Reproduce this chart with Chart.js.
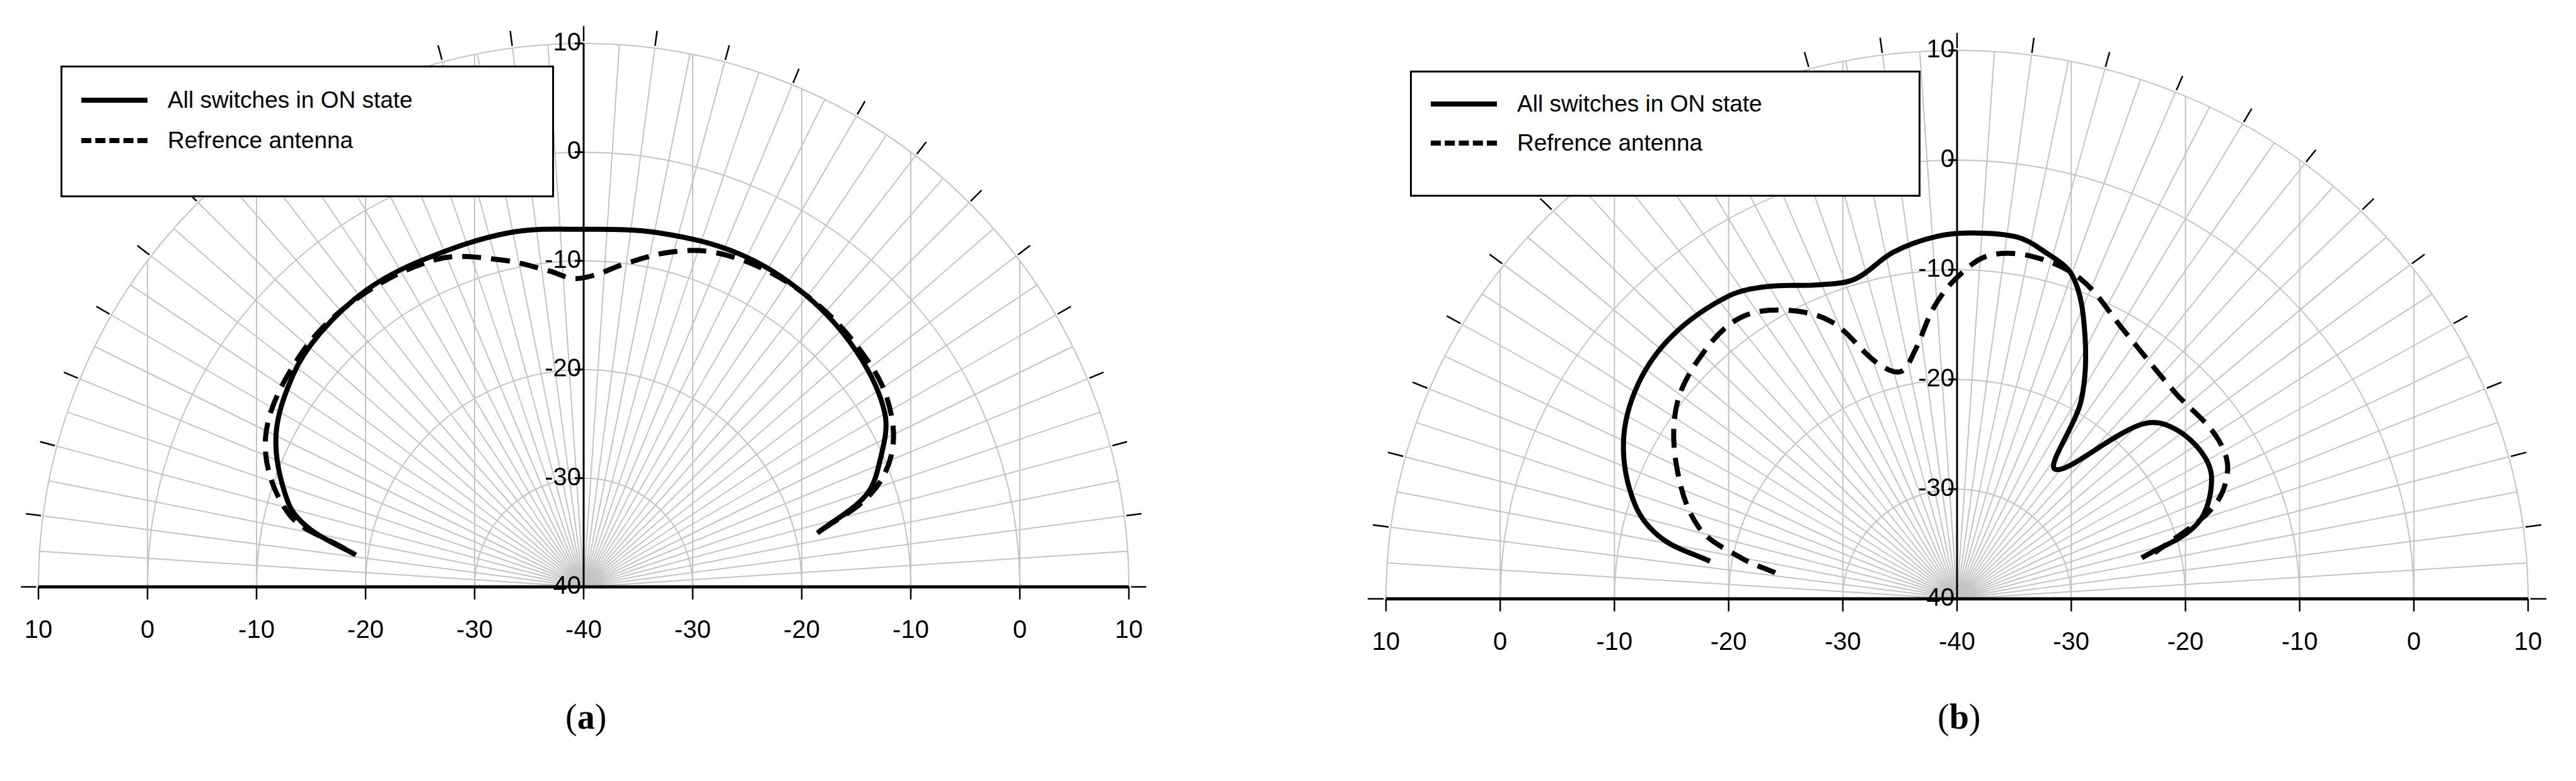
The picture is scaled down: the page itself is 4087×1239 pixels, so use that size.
<!DOCTYPE html>
<html>
<head>
<script src="https://cdn.jsdelivr.net/npm/chart.js"></script>
<style>
  body { margin: 0; background: #fff; width: 4087px; height: 1239px; position: relative; overflow: hidden;
         font-family: "Liberation Sans", Arial, sans-serif; }
  canvas { position: absolute; top: 0; }
  .legend { position: absolute; background: #fff; border: 3px solid #000; box-sizing: border-box; font-size: 37px; }
  .legend .row { position: absolute; left: 30px; height: 40px; display: flex; align-items: center; }
  .legend .sample { width: 105px; height: 0; border-top: 8px solid #000; margin-right: 32px; }
  .legend .dash { border-top-style: dashed; }
  .caption { position: absolute; top: 1105px; font-family: "Liberation Serif", "DejaVu Serif", serif; font-size: 56px; }
</style>
</head>
<body>
<canvas id="chartA" width="2043" height="1100" style="left:0"></canvas>
<canvas id="chartB" width="2044" height="1100" style="left:2043px"></canvas>

<div class="legend" style="left:96px;top:104px;width:783px;height:209px">
  <div class="row" style="top:32px"><div class="sample"></div>All switches in ON state</div>
  <div class="row" style="top:96px"><div class="sample dash"></div>Refrence antenna</div>
</div>
<div class="legend" style="left:2237px;top:112px;width:810px;height:200px">
  <div class="row" style="top:30px"><div class="sample"></div>All switches in ON state</div>
  <div class="row" style="top:92px"><div class="sample dash"></div>Refrence antenna</div>
</div>
<div class="caption" style="left:897px">(<b>a</b>)</div>
<div class="caption" style="left:3074px">(<b>b</b>)</div>

<script>
// angles in degrees from broadside (0 = up), gains in dB
const anglesOnA = [-82, -78, -74, -64, -54, -46, -36, -26, -12, 0, 12, 25, 37, 49, 60, 67, 72, 77];
const gainOnA = [-18.9, -14.3, -11.8, -8.6, -7.0, -6.4, -6.2, -6.5, -6.7, -7.1, -6.7, -6.2, -6.3, -6.9, -8.1, -10.5, -12.8, -18];
const anglesRefA = [-81, -76, -65, -51, -38, -24, -14, -6, -2, 2, 7, 14, 21, 30, 40, 50, 58, 66, 72, 77];
const gainRefA = [-17.9, -12.1, -7.8, -6.4, -6.3, -7.0, -9.0, -10.8, -11.6, -11.3, -10.1, -8.3, -7.0, -6.4, -6.3, -6.6, -7.2, -9.0, -12.3, -18];

const anglesOnB = [-81, -78, -73, -64, -55, -46, -36, -30, -23, -17, -10, -3, 3, 9, 13, 19, 25, 31, 36, 45, 49, 57, 64, 72, 77];
const gainOnB = [-18.1, -13.6, -10.5, -7.5, -5.9, -5.4, -5.9, -7.1, -8.9, -9.5, -7.9, -6.9, -6.6, -6.6, -7.3, -8.9, -13.5, -18.9, -25.4, -17.7, -15.8, -14.8, -15.2, -17.9, -23.4];
const anglesRefB = [-81.5, -78.8, -74, -64, -54, -44.5, -36.6, -30, -23.6, -18, -13.4, -9.3, -4.3, 0, 5, 12, 20.4, 30.8, 45.4, 56.5, 63.4, 69.6, 76.4];
const gainRefB = [-23.9, -20.7, -16.5, -12.7, -9.7, -8.4, -8.1, -9.6, -12.4, -17.4, -18.7, -17.1, -13.3, -10.7, -8.6, -8.1, -8.9, -11.5, -13.2, -12.9, -13.5, -16.1, -22.2];

const radialTicks = [-40, -30, -20, -10, 0, 10];
const xTickLabels = ['10', '0', '-10', '-20', '-30', '-40', '-30', '-20', '-10', '0', '10'];

const MIN_DB = -40, RMAX = 50;

function toXY(angles, gains) {
  return angles.map((a, i) => {
    const r = gains[i] - MIN_DB, t = a * Math.PI / 180;
    return { x: r * Math.sin(t), y: r * Math.cos(t) };
  });
}

const polarGrid = {
  id: 'polarGrid',
  beforeDatasetsDraw(chart) {
    const { ctx, scales: { x, y } } = chart;
    const cx = x.getPixelForValue(0), cy = y.getPixelForValue(0);
    const kx = (x.getPixelForValue(RMAX) - cx) / RMAX, ky = (cy - y.getPixelForValue(RMAX)) / RMAX;
    ctx.save();
    ctx.strokeStyle = '#c4c4c4';
    ctx.lineWidth = 2;
    // spokes
    for (let a = -90; a <= 90; a += 3.75) {
      const t = a * Math.PI / 180;
      ctx.beginPath();
      ctx.moveTo(cx, cy);
      ctx.lineTo(cx + RMAX * kx * Math.sin(t), cy - RMAX * ky * Math.cos(t));
      ctx.stroke();
    }
    // circles
    for (let r = 10; r <= RMAX; r += 10) {
      ctx.beginPath();
      ctx.ellipse(cx, cy, r * kx, r * ky, 0, Math.PI, 2 * Math.PI);
      ctx.stroke();
    }
    // vertical grid lines
    for (let r = -RMAX; r <= RMAX; r += 10) {
      if (r === 0) continue;
      const px = x.getPixelForValue(r);
      const h = Math.sqrt(RMAX * RMAX - r * r);
      ctx.beginPath();
      ctx.moveTo(px, cy);
      ctx.lineTo(px, y.getPixelForValue(h));
      ctx.stroke();
    }
    // outer ticks
    ctx.strokeStyle = '#000';
    ctx.lineWidth = 2.5;
    for (let a = -90; a <= 90; a += 7.5) {
      const t = a * Math.PI / 180;
      ctx.beginPath();
      ctx.moveTo(cx + 50.2 * kx * Math.sin(t), cy - 50.2 * ky * Math.cos(t));
      ctx.lineTo(cx + 51.6 * kx * Math.sin(t), cy - 51.6 * ky * Math.cos(t));
      ctx.stroke();
    }
    // vertical axis
    ctx.lineWidth = 3;
    ctx.beginPath();
    ctx.moveTo(cx, cy);
    ctx.lineTo(cx, y.getPixelForValue(RMAX));
    ctx.stroke();
    ctx.font = '40px "Liberation Sans Narrow", "Liberation Sans", Arial, sans-serif';
    ctx.fillStyle = '#000';
    ctx.textAlign = 'right';
    ctx.textBaseline = 'middle';
    radialTicks.forEach(v => {
      const py = y.getPixelForValue(v - MIN_DB);
      ctx.beginPath();
      ctx.moveTo(cx - 14, py);
      ctx.lineTo(cx, py);
      ctx.stroke();
      ctx.fillText(String(v), cx - 4, py);
    });
    // horizontal axis
    ctx.lineWidth = 5;
    ctx.beginPath();
    ctx.moveTo(x.getPixelForValue(-RMAX), cy);
    ctx.lineTo(x.getPixelForValue(RMAX), cy);
    ctx.stroke();
    ctx.lineWidth = 2.5;
    ctx.textAlign = 'center';
    ctx.textBaseline = 'top';
    xTickLabels.forEach((lab, i) => {
      const px = x.getPixelForValue(-RMAX + i * 10);
      ctx.beginPath();
      ctx.moveTo(px, cy);
      ctx.lineTo(px, cy + 20);
      ctx.stroke();
      ctx.fillText(lab, px, cy + 50);
    });
    ctx.restore();
  }
};

function makeChart(id, pad, onData, refData) {
  const line = { showLine: true, pointRadius: 0, borderColor: '#000', borderWidth: 8, tension: 0.35, fill: false };
  return new Chart(document.getElementById(id), {
    type: 'scatter',
    data: {
      datasets: [
        { ...line, label: 'All switches in ON state', data: onData },
        { ...line, label: 'Refrence antenna', data: refData, borderDash: [30, 16] }
      ]
    },
    options: {
      responsive: false,
      animation: false,
      devicePixelRatio: 1,
      layout: { padding: pad },
      plugins: { legend: { display: false }, tooltip: { enabled: false } },
      scales: {
        x: { type: 'linear', min: -RMAX, max: RMAX, display: false },
        y: { type: 'linear', min: 0, max: RMAX, display: false }
      }
    },
    plugins: [polarGrid]
  });
}

makeChart('chartA', { left: 61, right: 252, top: 69, bottom: 169 },
  toXY(anglesOnA, gainOnA), toXY(anglesRefA, gainRefA));
makeChart('chartB', { left: 156, right: 76, top: 80, bottom: 150 },
  toXY(anglesOnB, gainOnB), toXY(anglesRefB, gainRefB));
</script>
</body>
</html>
